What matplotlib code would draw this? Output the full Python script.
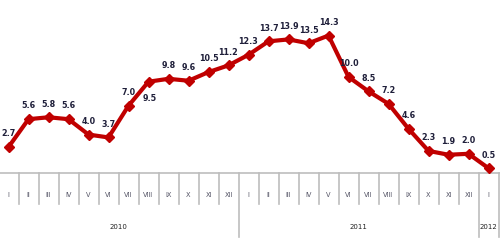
import numpy as np
import matplotlib
matplotlib.use("Agg")
import matplotlib.pyplot as plt

# monthly values, Jan 2010 - Jan 2012
months = ["I", "II", "III", "IV", "V", "VI", "VII", "VIII", "IX", "X", "XI", "XII",
          "I", "II", "III", "IV", "V", "VI", "VII", "VIII", "IX", "X", "XI", "XII",
          "I"]
values = [2.7, 5.6, 5.8, 5.6, 4.0, 3.7, 7.0, 9.5, 9.8, 9.6, 10.5, 11.2,
          12.3, 13.7, 13.9, 13.5, 14.3, 10.0, 8.5, 7.2, 4.6, 2.3, 1.9, 2.0,
          0.5]
years = ["2010", "2011", "2012"]
year_centers = [5.5, 17.5, 24]
year_breaks = [11.5, 23.5]

fig = plt.figure(figsize=(5.0, 2.46), dpi=100)
ax = fig.add_axes([0, 0.2967, 1, 0.7033])

x = np.arange(len(values))
ax.plot(x, values, color="#c00000", lw=3.0, marker="D", ms=5.5,
        mec="#c00000", mfc="#c00000", solid_joinstyle="round", zorder=3)

# value labels, the Aug 2010 one sits below the point
for i, v in enumerate(values):
    if i == 7:
        ax.annotate(f"{v:.1f}", (i, v), xytext=(1, -12), textcoords="offset points",
                    ha="center", va="center", fontsize=5.8, fontweight="bold", color="#1f1f3a")
    else:
        ax.annotate(f"{v:.1f}", (i, v), xytext=(0, 9.5), textcoords="offset points",
                    ha="center", va="center", fontsize=5.8, fontweight="bold", color="#1f1f3a")

ax.set_xlim(-0.425, 24.575)
ax.set_ylim(0, 18.0)
ax.set_xticks([])
ax.set_yticks([])
for s in ["top", "left", "right"]:
    ax.spines[s].set_visible(False)
ax.spines["bottom"].set_color("#bdbdbd")
ax.spines["bottom"].set_linewidth(1.2)

# category separators below the axis
tr = ax.get_xaxis_transform()
for b in np.arange(-0.5, 25.0, 1.0):
    bottom = -0.37 if (b in year_breaks or b == 24.5) else -0.179
    ax.plot([b, b], [0, bottom], color="#bdbdbd", lw=1.2, transform=tr, clip_on=False)

for i, m in enumerate(months):
    ax.text(i, -0.127, m, transform=tr, ha="center", va="center",
            fontsize=4.8, color="#555566")

for y, c in zip(years, year_centers):
    ax.text(c, -0.312, y, transform=tr, ha="center", va="center",
            fontsize=5.0, color="#222222")

fig.savefig("out.png", dpi=100)
